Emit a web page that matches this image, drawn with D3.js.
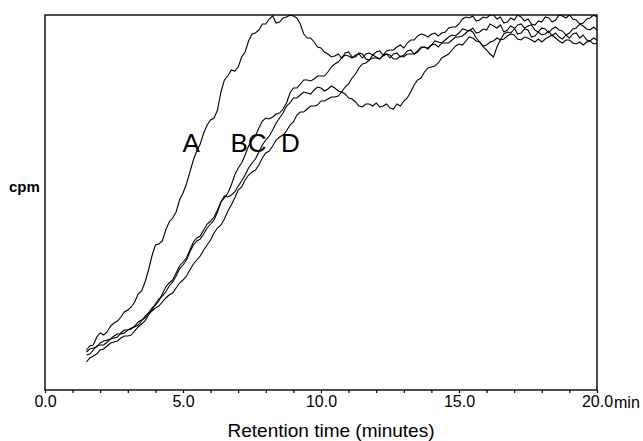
<!DOCTYPE html>
<html>
<head>
<meta charset="utf-8">
<script src="https://cdn.jsdelivr.net/npm/d3@7"></script>
<style>
  body { margin: 0; background: #fff; }
  text { font-family: "Liberation Sans", Arial, sans-serif; }
</style>
</head>
<body>
<div id="chart"></div>
<script>
// retention time grid (minutes), one sample every 0.125 min
var times = d3.range(1.5, 20.001, 0.125);

// cpm traces (arbitrary units)
var traceA = [40,44,45,53,57,55,58,64,67,69,73,78,80,83,88,96,99,108,120,134,145,146,149,160,168,172,178,190,197,206,
  218,230,239,246,257,265,270,272,280,298,310,314,320,319,323,333,338,349,356,357,360,366,366,371,374,367,368,372,373,375,
  374,372,366,356,352,352,348,343,342,338,336,333,334,336,332,337,338,333,333,337,336,331,330,335,333,331,335,336,332,336,
  337,333,335,339,340,336,338,342,343,341,345,349,348,347,350,353,355,354,357,361,360,359,362,357,358,361,360,366,364,362,
  365,358,360,364,362,356,357,361,360,353,354,358,355,356,359,354,357,353,351,355,352,356,357,352,355,350,349,352,350];
var traceB = [35,36,40,44,45,45,48,51,52,53,57,60,60,61,64,68,70,72,77,82,85,89,96,103,107,110,117,124,128,132,
  140,148,152,154,160,166,169,173,180,188,192,197,205,215,222,227,235,244,250,254,262,269,272,271,273,276,277,281,287,297,
  302,302,306,310,310,309,311,314,314,314,318,323,326,328,332,335,334,332,335,336,332,336,337,335,338,339,335,339,340,340,
  343,345,342,347,350,350,354,356,355,353,356,357,354,357,358,362,363,363,366,371,373,372,374,369,370,373,372,375,375,371,
  373,367,368,372,370,375,373,369,371,366,365,369,368,373,372,368,370,375,374,372,375,371,370,366,367,371,372,375,373];
var traceC = [38,41,42,43,47,49,50,51,54,56,56,57,60,62,63,65,69,74,77,80,86,91,94,98,104,108,114,121,125,130,
  138,145,149,151,156,162,166,170,178,188,194,193,195,198,204,209,215,222,227,231,238,245,250,254,260,267,272,277,284,287,
  292,292,295,298,297,296,300,303,302,299,301,304,302,299,298,296,292,291,288,284,283,286,286,284,287,283,284,286,282,281,
  286,284,289,292,298,305,310,312,318,322,323,324,327,332,334,336,340,344,346,345,349,353,352,349,348,344,345,348,349,352,
  350,351,354,356,355,351,350,353,352,350,348,351,348,351,353,355,352,349,347,350,350,347,346,348,345,348,349,346,347];
var traceD = [28,32,34,36,40,41,44,47,48,49,52,54,54,55,59,63,66,69,75,79,82,84,88,92,95,97,102,107,110,114,
  120,126,130,134,140,145,150,157,162,165,171,179,185,192,200,203,210,215,218,220,225,232,237,239,244,250,253,255,259,265,
  268,275,278,278,281,284,284,285,289,289,291,293,293,294,298,303,306,312,316,322,326,327,330,332,332,331,334,336,335,331,
  331,334,333,336,336,336,339,343,343,342,345,346,343,347,347,347,350,353,353,354,357,360,358,352,348,343,340,336,333,343,
  350,356,358,357,361,365,366,362,364,365,360,358,362,361,357,361,363,360,359,355,357,361,362,366,364,361,360,363,360];

var traces = [traceA, traceB, traceC, traceD];
var peakLabels = [{t: "A", x: 4.98}, {t: "BC", x: 6.72}, {t: "D", x: 8.55}];
var xTicks = d3.range(0, 21, 1);

var margin = {top: 15, right: 46, bottom: 51, left: 45},
    width = 643 - margin.left - margin.right,
    height = 441 - margin.top - margin.bottom;

var svg = d3.select("#chart")
  .append("svg")
    .attr("width", 643)
    .attr("height", 441)
  .append("g")
    .attr("transform", "translate(" + margin.left + "," + margin.top + ")");

var x = d3.scaleLinear()
  .domain([0, 20])
  .range([0, width]);

var y = d3.scaleLinear()
  .domain([0, 375])
  .range([height, 0]);

svg.append("clipPath")
  .attr("id", "clip")
  .append("rect")
    .attr("width", width)
    .attr("height", height);

// traces
var line = d3.line()
  .x(function(d, i) { return x(times[i]); })
  .y(function(d) { return y(d); });

svg.append("g")
  .attr("clip-path", "url(#clip)")
  .selectAll("path")
  .data(traces)
  .join("path")
    .attr("d", line)
    .attr("fill", "none")
    .attr("stroke", "#000")
    .attr("stroke-width", 1.1);

// frame
svg.append("rect")
  .attr("width", width)
  .attr("height", height)
  .attr("fill", "none")
  .attr("stroke", "#000")
  .attr("stroke-width", 1.4);

// x axis
var xAxis = svg.append("g")
  .attr("transform", "translate(0," + height + ")")
  .call(d3.axisBottom(x)
    .tickValues(xTicks)
    .tickSize(3)
    .tickSizeOuter(0)
    .tickFormat(function(d) { return d % 5 === 0 ? d3.format(".1f")(d) : ""; }));
xAxis.select(".domain").remove();
xAxis.selectAll("line").attr("stroke-width", 1.2);
xAxis.selectAll("text")
  .style("font-size", "16px")
  .style("font-family", "Liberation Sans, Arial, sans-serif");

svg.append("text")
  .attr("x", width + 17)
  .attr("y", height + 18)
  .style("font-size", "16px")
  .text("min");

svg.append("text")
  .attr("x", 286)
  .attr("y", height + 47)
  .attr("text-anchor", "middle")
  .style("font-size", "19px")
  .text("Retention time (minutes)");

// y label
svg.append("text")
  .attr("x", -36)
  .attr("y", 177)
  .style("font-size", "15px")
  .style("font-weight", "bold")
  .text("cpm");

// peak labels
svg.selectAll(".peak")
  .data(peakLabels)
  .join("text")
    .attr("class", "peak")
    .attr("x", function(d) { return x(d.x); })
    .attr("y", 137)
    .style("font-size", "26px")
    .text(function(d) { return d.t; });
</script>
</body>
</html>
